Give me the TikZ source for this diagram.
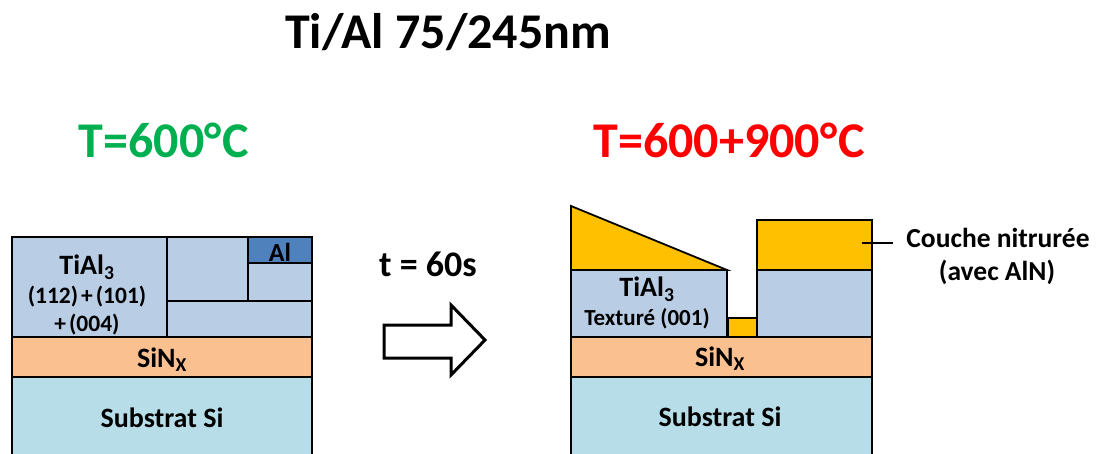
\documentclass[tikz,border=0pt]{standalone}
\usepackage{fontspec}
\setmainfont{Carlito}
\definecolor{tial}{HTML}{B9CDE5}
\definecolor{alc}{HTML}{4F81BD}
\definecolor{sin}{HTML}{FAC090}
\definecolor{sub}{HTML}{B7DDE8}
\definecolor{nit}{HTML}{FFC000}
\definecolor{grn}{HTML}{00B050}
\definecolor{rd}{HTML}{FF0000}
\tikzset{
  layer/.style={draw=black,line width=1.8pt,line join=miter},
  lbl/.style={inner sep=0pt,anchor=base,font=\bfseries\fontsize{28}{30}\selectfont},
  slbl/.style={inner sep=0pt,anchor=base,font=\bfseries\fontsize{23.5}{25}\selectfont},
  ttl/.style={inner sep=0pt,anchor=base,font=\bfseries\fontsize{50}{52}\selectfont},
}
\begin{document}
\begin{tikzpicture}[x=1pt,y=-1pt]
\useasboundingbox (0,0) rectangle (1100,454);
\clip (0,0) rectangle (1100,454);
% titles
\node[ttl] (title) at (448,49) {Ti/Al 75/245nm};
\node[ttl,text=grn] (tleft) at (164,158) {T=600°\kern1ptC};
\node[ttl,text=rd] (tright) at (729,158) {T=600+900°\kern1ptC};
% left stack
\fill[sub] (12,377) rectangle (312,470);
\draw[layer] (12,470) -- (12,377) -- (312,377) -- (312,470);
\filldraw[layer,fill=sin] (12,337) rectangle (312,377);
\filldraw[layer,fill=tial] (12,237) rectangle (167,337);
\filldraw[layer,fill=tial] (167,237) rectangle (248,301);
\filldraw[layer,fill=tial] (167,301) rectangle (312,337);
\filldraw[layer,fill=tial] (248,263) rectangle (312,301);
\filldraw[layer,fill=alc] (248,237) rectangle (312,263);
\node[lbl] (ltial) at (87,275) {TiAl\textsubscript{3}};
\node[slbl] (lori1) at (87,303) {(112)\kern3pt+\kern3pt(101)};
\node[slbl] (lori2) at (87,331) {+\kern3pt(004)};
\node[lbl,font=\bfseries\fontsize{26}{28}\selectfont] (lal) at (280,262) {Al};
\node[lbl] (lsin) at (162,367) {SiN\textsubscript{X}};
\node[lbl] (lsub) at (162,427) {Substrat Si};
% arrow
\node[lbl,font=\bfseries\fontsize{36}{38}\selectfont] (time) at (428,277) {t = 60s};
\draw[line width=3pt,line join=miter,fill=white] (384,325) -- (451,325) -- (451,305) -- (485,340) -- (451,375) -- (451,358) -- (384,358) -- cycle;
% right stack
\fill[sub] (571,377) rectangle (872,470);
\draw[layer] (571,470) -- (571,377) -- (872,377) -- (872,470);
\filldraw[layer,fill=sin] (571,337) rectangle (872,377);
\filldraw[layer,fill=tial] (571,270) rectangle (727,337);
\filldraw[layer,fill=nit] (571,206) -- (727,270) -- (571,270) -- cycle;
\filldraw[layer,fill=nit] (728,318) rectangle (757,337);
\filldraw[layer,fill=tial] (757,270) rectangle (872,337);
\filldraw[layer,fill=nit] (757,220) rectangle (872,270);
\node[lbl] (rtial) at (647,297) {TiAl\textsubscript{3}};
\node[slbl,font=\bfseries\fontsize{23}{25}\selectfont] (rtex) at (647,325) {Texturé (001)};
\node[lbl] (rsin) at (720,366) {SiN\textsubscript{X}};
\node[lbl] (rsub) at (720,426) {Substrat Si};
% label
\node[lbl,font=\bfseries\fontsize{27.5}{29}\selectfont] (couche) at (998,248) {Couche nitrurée};
\node[lbl,font=\bfseries\fontsize{27.5}{29}\selectfont] (avec) at (997,281) {(avec AlN)};
\coordinate (lead) at (862,243);
\coordinate (leadend) at (893,243);
\draw[line width=1.8pt] (lead) -- (leadend);
\end{tikzpicture}
\end{document}
